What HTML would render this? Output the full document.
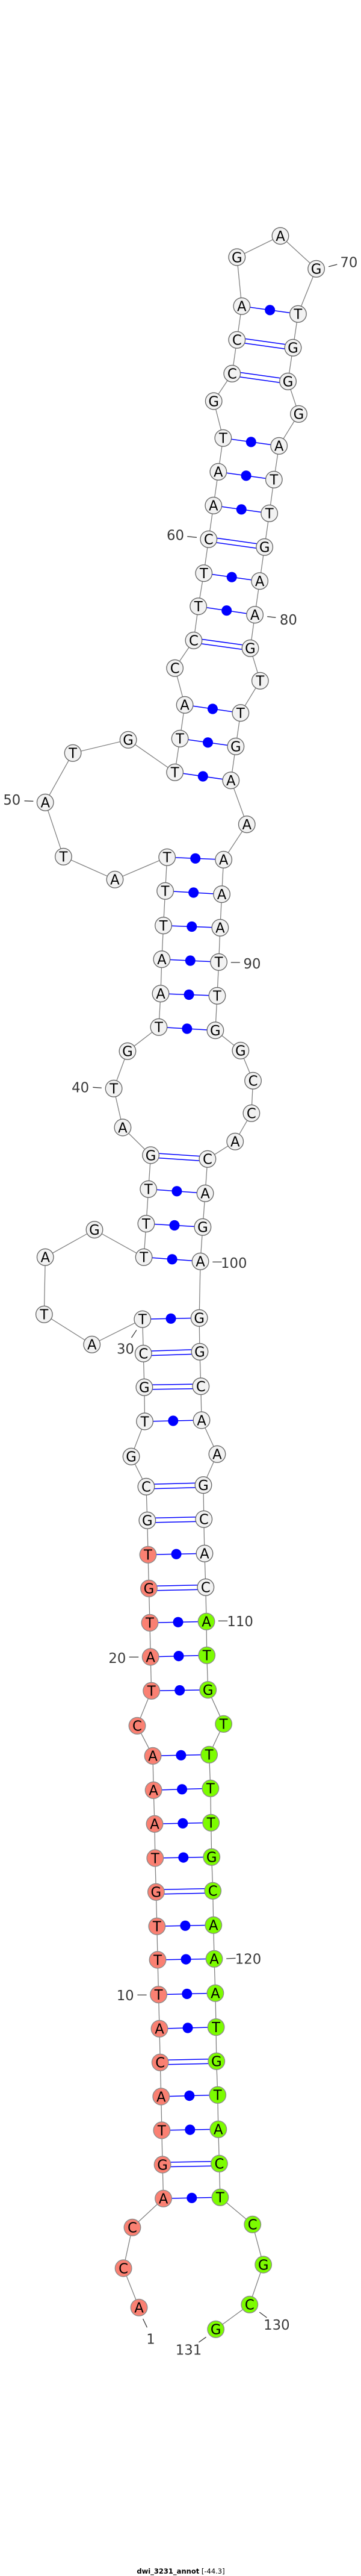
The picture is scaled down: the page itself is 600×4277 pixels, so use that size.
<!DOCTYPE html>
<html>
<head>
<meta charset="utf-8">
<style>
html,body{margin:0;padding:0;background:#fff;width:600px;height:4277px;overflow:hidden}
svg{display:block;font-family:"DejaVu Sans","Liberation Sans",sans-serif}
.n circle{stroke-width:1.35}
.n text{font-size:23px;fill:#000;text-anchor:middle}
.w circle{fill:#f2f2f2;stroke:#666}
.s circle{fill:#fa8072;stroke:#8a8a8a}
.g circle{fill:#7cfc00;stroke:#8a8a8a}
.l text{font-size:23px;fill:#3a3a3a;text-anchor:middle}
.l line{stroke:#3a3a3a;stroke-width:1.3}
</style>
</head>
<body>
<svg xmlns="http://www.w3.org/2000/svg" width="600" height="4277" viewBox="0 0 600 4277">
<g transform="scale(0.99,1)">
<polyline fill="none" stroke="#808080" stroke-width="1.3" points="233.4,3831.3 207.2,3766 222.2,3698.3 274.3,3650.3 272.8,3594 271.6,3537 270.5,3481 268.9,3424.3 267.7,3368.3 266.2,3311.7 264.7,3254 263.5,3198.3 262,3141.3 260.4,3085 259.6,3028.3 257.7,2972.3 256.6,2915.3 230.3,2865.3 254.2,2807.3 252.7,2751 251.5,2694.3 250,2637.3 248.5,2581.3 247.3,2524.3 245.4,2468.3 220.3,2418.3 243,2360 242.3,2303.3 240.7,2247.3 239.2,2190.3 154.3,2232.3 74.1,2182.3 76,2087.3 158.6,2041.7 241.5,2087.3 245.4,2031.7 249.2,1974.3 253.1,1918 206,1872 191,1807.3 214.1,1745.3 266.6,1705.3 269.7,1649.7 271.6,1592.7 274.3,1536.7 277.4,1479.3 280.5,1423.3 192.9,1460.3 106.5,1422.3 76,1332.3 122.3,1250.3 215.3,1228.3 293.6,1282.3 302.1,1226.3 310.2,1170.3 293.6,1109.3 325.2,1063.3 333,1006.7 342.2,951.7 350.3,895.3 358.4,839.3 366.5,783.3 374.6,727.3 358.8,666 389.7,620.3 397.8,564.3 405.9,508.3 397.8,427 470.7,391.7 530.9,446.3 500.4,521.3 491.9,577.3 483.4,633.3 501.5,687.3 468.4,740.3 459.9,796.3 452.2,852.3 444.1,908.3 436,964.7 427.9,1020.7 420.2,1076.3 436.7,1130.3 403.9,1183.7 395.8,1239.3 387.7,1295.7 414.4,1368.7 375.4,1427.3 372.3,1484.7 369.6,1540.3 367.3,1597.3 364.6,1653.3 361.5,1710.7 403.9,1744.3 424.8,1794.3 422.1,1848.3 394.7,1895.3 348.4,1924.3 344.5,1981.3 340.3,2037.3 336.4,2094.3 334.5,2188.3 335.3,2244.3 337.2,2301.7 338.4,2358 364.6,2414.3 341.4,2465.7 342.2,2522.3 343.4,2579.3 345.3,2635.3 346.5,2692.3 347.2,2748.3 349.2,2805.7 375.4,2862.3 351.1,2913.3 353.4,2969.3 354.2,3026.3 355.3,3083.3 357.3,3139.3 358.4,3196.3 359.6,3252.3 361.5,3309.3 362.7,3365.7 363.4,3422.3 365.4,3478.3 366.5,3535.3 368.1,3592.3 369.6,3648.3 424,3693.3 442.1,3760 419,3826.3 362.3,3867.3"/>

<!-- single bonds with dots -->
<g stroke="#0000ff" stroke-width="1.5" fill="none">
<line x1="274.3" y1="3650.3" x2="369.6" y2="3648.3"/>
<line x1="271.6" y1="3537" x2="366.5" y2="3535.3"/>
<line x1="270.5" y1="3481" x2="365.4" y2="3478.3"/>
<line x1="267.7" y1="3368.3" x2="362.7" y2="3365.7"/>
<line x1="266.2" y1="3311.7" x2="361.5" y2="3309.3"/>
<line x1="264.7" y1="3254" x2="359.6" y2="3252.3"/>
<line x1="263.5" y1="3198.3" x2="358.4" y2="3196.3"/>
<line x1="260.4" y1="3085" x2="355.3" y2="3083.3"/>
<line x1="259.6" y1="3028.3" x2="354.2" y2="3026.3"/>
<line x1="257.7" y1="2972.3" x2="353.4" y2="2969.3"/>
<line x1="256.6" y1="2915.3" x2="351.1" y2="2913.3"/>
<line x1="254.2" y1="2807.3" x2="349.2" y2="2805.7"/>
<line x1="252.7" y1="2751" x2="347.2" y2="2748.3"/>
<line x1="251.5" y1="2694.3" x2="346.5" y2="2692.3"/>
<line x1="248.5" y1="2581.3" x2="343.4" y2="2579.3"/>
<line x1="243" y1="2360" x2="338.4" y2="2358"/>
<line x1="239.2" y1="2190.3" x2="334.5" y2="2188.3"/>
<line x1="241.5" y1="2087.3" x2="336.4" y2="2094.3"/>
<line x1="245.4" y1="2031.7" x2="340.3" y2="2037.3"/>
<line x1="249.2" y1="1974.3" x2="344.5" y2="1981.3"/>
<line x1="266.6" y1="1705.3" x2="361.5" y2="1710.7"/>
<line x1="269.7" y1="1649.7" x2="364.6" y2="1653.3"/>
<line x1="271.6" y1="1592.7" x2="367.3" y2="1597.3"/>
<line x1="274.3" y1="1536.7" x2="369.6" y2="1540.3"/>
<line x1="277.4" y1="1479.3" x2="372.3" y2="1484.7"/>
<line x1="280.5" y1="1423.3" x2="375.4" y2="1427.3"/>
<line x1="293.6" y1="1282.3" x2="387.7" y2="1295.7"/>
<line x1="302.1" y1="1226.3" x2="395.8" y2="1239.3"/>
<line x1="310.2" y1="1170.3" x2="403.9" y2="1183.7"/>
<line x1="333" y1="1006.7" x2="427.9" y2="1020.7"/>
<line x1="342.2" y1="951.7" x2="436" y2="964.7"/>
<line x1="358.4" y1="839.3" x2="452.2" y2="852.3"/>
<line x1="366.5" y1="783.3" x2="459.9" y2="796.3"/>
<line x1="374.6" y1="727.3" x2="468.4" y2="740.3"/>
<line x1="405.9" y1="508.3" x2="500.4" y2="521.3"/>
</g>
<g fill="#0000ff">
<circle cx="322" cy="3649.3" r="8.6"/>
<circle cx="319" cy="3536.1" r="8.6"/>
<circle cx="318" cy="3479.6" r="8.6"/>
<circle cx="315.2" cy="3367" r="8.6"/>
<circle cx="313.9" cy="3310.5" r="8.6"/>
<circle cx="312.2" cy="3253.1" r="8.6"/>
<circle cx="311" cy="3197.3" r="8.6"/>
<circle cx="307.9" cy="3084.1" r="8.6"/>
<circle cx="306.9" cy="3027.3" r="8.6"/>
<circle cx="305.6" cy="2970.8" r="8.6"/>
<circle cx="303.9" cy="2914.3" r="8.6"/>
<circle cx="301.7" cy="2806.5" r="8.6"/>
<circle cx="300" cy="2749.6" r="8.6"/>
<circle cx="299" cy="2693.3" r="8.6"/>
<circle cx="296" cy="2580.3" r="8.6"/>
<circle cx="290.7" cy="2359" r="8.6"/>
<circle cx="286.9" cy="2189.3" r="8.6"/>
<circle cx="289" cy="2090.8" r="8.6"/>
<circle cx="292.9" cy="2034.5" r="8.6"/>
<circle cx="296.9" cy="1977.8" r="8.6"/>
<circle cx="314" cy="1708" r="8.6"/>
<circle cx="317.2" cy="1651.5" r="8.6"/>
<circle cx="319.5" cy="1595" r="8.6"/>
<circle cx="322" cy="1538.5" r="8.6"/>
<circle cx="324.9" cy="1482" r="8.6"/>
<circle cx="328" cy="1425.3" r="8.6"/>
<circle cx="340.7" cy="1289" r="8.6"/>
<circle cx="349" cy="1232.8" r="8.6"/>
<circle cx="357" cy="1177" r="8.6"/>
<circle cx="380.5" cy="1013.7" r="8.6"/>
<circle cx="389.1" cy="958.2" r="8.6"/>
<circle cx="405.3" cy="845.8" r="8.6"/>
<circle cx="413.2" cy="789.8" r="8.6"/>
<circle cx="421.5" cy="733.8" r="8.6"/>
<circle cx="453.2" cy="514.8" r="8.6"/>
</g>

<!-- double bonds: blue band with white core -->
<g fill="none" stroke="#0000ff" stroke-width="9">
<line x1="272.8" y1="3594" x2="368.1" y2="3592.3"/>
<line x1="268.9" y1="3424.3" x2="363.4" y2="3422.3"/>
<line x1="262" y1="3141.3" x2="357.3" y2="3139.3"/>
<line x1="250" y1="2637.3" x2="345.3" y2="2635.3"/>
<line x1="247.3" y1="2524.3" x2="342.2" y2="2522.3"/>
<line x1="245.4" y1="2468.3" x2="341.4" y2="2465.7"/>
<line x1="242.3" y1="2303.3" x2="337.2" y2="2301.7"/>
<line x1="240.7" y1="2247.3" x2="335.3" y2="2244.3"/>
<line x1="253.1" y1="1918" x2="348.4" y2="1924.3"/>
<line x1="325.2" y1="1063.3" x2="420.2" y2="1076.3"/>
<line x1="350.3" y1="895.3" x2="444.1" y2="908.3"/>
<line x1="389.7" y1="620.3" x2="483.4" y2="633.3"/>
<line x1="397.8" y1="564.3" x2="491.9" y2="577.3"/>
</g>
<g fill="none" stroke="#ffffff" stroke-width="6">
<line x1="272.8" y1="3594" x2="368.1" y2="3592.3"/>
<line x1="268.9" y1="3424.3" x2="363.4" y2="3422.3"/>
<line x1="262" y1="3141.3" x2="357.3" y2="3139.3"/>
<line x1="250" y1="2637.3" x2="345.3" y2="2635.3"/>
<line x1="247.3" y1="2524.3" x2="342.2" y2="2522.3"/>
<line x1="245.4" y1="2468.3" x2="341.4" y2="2465.7"/>
<line x1="242.3" y1="2303.3" x2="337.2" y2="2301.7"/>
<line x1="240.7" y1="2247.3" x2="335.3" y2="2244.3"/>
<line x1="253.1" y1="1918" x2="348.4" y2="1924.3"/>
<line x1="325.2" y1="1063.3" x2="420.2" y2="1076.3"/>
<line x1="350.3" y1="895.3" x2="444.1" y2="908.3"/>
<line x1="389.7" y1="620.3" x2="483.4" y2="633.3"/>
<line x1="397.8" y1="564.3" x2="491.9" y2="577.3"/>
</g>

<!-- salmon nodes -->
<g class="n s">
<circle cx="233.4" cy="3831.3" r="13.9"/><text x="233.4" y="3831.3" dy="8.3">A</text>
<circle cx="207.2" cy="3766" r="13.9"/><text x="207.2" y="3766" dy="8.3">C</text>
<circle cx="222.2" cy="3698.3" r="13.9"/><text x="222.2" y="3698.3" dy="8.3">C</text>
<circle cx="274.3" cy="3650.3" r="13.9"/><text x="274.3" y="3650.3" dy="8.3">A</text>
<circle cx="272.8" cy="3594" r="13.9"/><text x="272.8" y="3594" dy="8.3">G</text>
<circle cx="271.6" cy="3537" r="13.9"/><text x="271.6" y="3537" dy="8.3">T</text>
<circle cx="270.5" cy="3481" r="13.9"/><text x="270.5" y="3481" dy="8.3">A</text>
<circle cx="268.9" cy="3424.3" r="13.9"/><text x="268.9" y="3424.3" dy="8.3">C</text>
<circle cx="267.7" cy="3368.3" r="13.9"/><text x="267.7" y="3368.3" dy="8.3">A</text>
<circle cx="266.2" cy="3311.7" r="13.9"/><text x="266.2" y="3311.7" dy="8.3">T</text>
<circle cx="264.7" cy="3254" r="13.9"/><text x="264.7" y="3254" dy="8.3">T</text>
<circle cx="263.5" cy="3198.3" r="13.9"/><text x="263.5" y="3198.3" dy="8.3">T</text>
<circle cx="262" cy="3141.3" r="13.9"/><text x="262" y="3141.3" dy="8.3">G</text>
<circle cx="260.4" cy="3085" r="13.9"/><text x="260.4" y="3085" dy="8.3">T</text>
<circle cx="259.6" cy="3028.3" r="13.9"/><text x="259.6" y="3028.3" dy="8.3">A</text>
<circle cx="257.7" cy="2972.3" r="13.9"/><text x="257.7" y="2972.3" dy="8.3">A</text>
<circle cx="256.6" cy="2915.3" r="13.9"/><text x="256.6" y="2915.3" dy="8.3">A</text>
<circle cx="230.3" cy="2865.3" r="13.9"/><text x="230.3" y="2865.3" dy="8.3">C</text>
<circle cx="254.2" cy="2807.3" r="13.9"/><text x="254.2" y="2807.3" dy="8.3">T</text>
<circle cx="252.7" cy="2751" r="13.9"/><text x="252.7" y="2751" dy="8.3">A</text>
<circle cx="251.5" cy="2694.3" r="13.9"/><text x="251.5" y="2694.3" dy="8.3">T</text>
<circle cx="250" cy="2637.3" r="13.9"/><text x="250" y="2637.3" dy="8.3">G</text>
<circle cx="248.5" cy="2581.3" r="13.9"/><text x="248.5" y="2581.3" dy="8.3">T</text>
</g>

<!-- neutral nodes -->
<g class="n w">
<circle cx="247.3" cy="2524.3" r="13.9"/><text x="247.3" y="2524.3" dy="8.3">G</text>
<circle cx="245.4" cy="2468.3" r="13.9"/><text x="245.4" y="2468.3" dy="8.3">C</text>
<circle cx="220.3" cy="2418.3" r="13.9"/><text x="220.3" y="2418.3" dy="8.3">G</text>
<circle cx="243" cy="2360" r="13.9"/><text x="243" y="2360" dy="8.3">T</text>
<circle cx="242.3" cy="2303.3" r="13.9"/><text x="242.3" y="2303.3" dy="8.3">G</text>
<circle cx="240.7" cy="2247.3" r="13.9"/><text x="240.7" y="2247.3" dy="8.3">C</text>
<circle cx="239.2" cy="2190.3" r="13.9"/><text x="239.2" y="2190.3" dy="8.3">T</text>
<circle cx="154.3" cy="2232.3" r="13.9"/><text x="154.3" y="2232.3" dy="8.3">A</text>
<circle cx="74.1" cy="2182.3" r="13.9"/><text x="74.1" y="2182.3" dy="8.3">T</text>
<circle cx="76" cy="2087.3" r="13.9"/><text x="76" y="2087.3" dy="8.3">A</text>
<circle cx="158.6" cy="2041.7" r="13.9"/><text x="158.6" y="2041.7" dy="8.3">G</text>
<circle cx="241.5" cy="2087.3" r="13.9"/><text x="241.5" y="2087.3" dy="8.3">T</text>
<circle cx="245.4" cy="2031.7" r="13.9"/><text x="245.4" y="2031.7" dy="8.3">T</text>
<circle cx="249.2" cy="1974.3" r="13.9"/><text x="249.2" y="1974.3" dy="8.3">T</text>
<circle cx="253.1" cy="1918" r="13.9"/><text x="253.1" y="1918" dy="8.3">G</text>
<circle cx="206" cy="1872" r="13.9"/><text x="206" y="1872" dy="8.3">A</text>
<circle cx="191" cy="1807.3" r="13.9"/><text x="191" y="1807.3" dy="8.3">T</text>
<circle cx="214.1" cy="1745.3" r="13.9"/><text x="214.1" y="1745.3" dy="8.3">G</text>
<circle cx="266.6" cy="1705.3" r="13.9"/><text x="266.6" y="1705.3" dy="8.3">T</text>
<circle cx="269.7" cy="1649.7" r="13.9"/><text x="269.7" y="1649.7" dy="8.3">A</text>
<circle cx="271.6" cy="1592.7" r="13.9"/><text x="271.6" y="1592.7" dy="8.3">A</text>
<circle cx="274.3" cy="1536.7" r="13.9"/><text x="274.3" y="1536.7" dy="8.3">T</text>
<circle cx="277.4" cy="1479.3" r="13.9"/><text x="277.4" y="1479.3" dy="8.3">T</text>
<circle cx="280.5" cy="1423.3" r="13.9"/><text x="280.5" y="1423.3" dy="8.3">T</text>
<circle cx="192.9" cy="1460.3" r="13.9"/><text x="192.9" y="1460.3" dy="8.3">A</text>
<circle cx="106.5" cy="1422.3" r="13.9"/><text x="106.5" y="1422.3" dy="8.3">T</text>
<circle cx="76" cy="1332.3" r="13.9"/><text x="76" y="1332.3" dy="8.3">A</text>
<circle cx="122.3" cy="1250.3" r="13.9"/><text x="122.3" y="1250.3" dy="8.3">T</text>
<circle cx="215.3" cy="1228.3" r="13.9"/><text x="215.3" y="1228.3" dy="8.3">G</text>
<circle cx="293.6" cy="1282.3" r="13.9"/><text x="293.6" y="1282.3" dy="8.3">T</text>
<circle cx="302.1" cy="1226.3" r="13.9"/><text x="302.1" y="1226.3" dy="8.3">T</text>
<circle cx="310.2" cy="1170.3" r="13.9"/><text x="310.2" y="1170.3" dy="8.3">A</text>
<circle cx="293.6" cy="1109.3" r="13.9"/><text x="293.6" y="1109.3" dy="8.3">C</text>
<circle cx="325.2" cy="1063.3" r="13.9"/><text x="325.2" y="1063.3" dy="8.3">C</text>
<circle cx="333" cy="1006.7" r="13.9"/><text x="333" y="1006.7" dy="8.3">T</text>
<circle cx="342.2" cy="951.7" r="13.9"/><text x="342.2" y="951.7" dy="8.3">T</text>
<circle cx="350.3" cy="895.3" r="13.9"/><text x="350.3" y="895.3" dy="8.3">C</text>
<circle cx="358.4" cy="839.3" r="13.9"/><text x="358.4" y="839.3" dy="8.3">A</text>
<circle cx="366.5" cy="783.3" r="13.9"/><text x="366.5" y="783.3" dy="8.3">A</text>
<circle cx="374.6" cy="727.3" r="13.9"/><text x="374.6" y="727.3" dy="8.3">T</text>
<circle cx="358.8" cy="666" r="13.9"/><text x="358.8" y="666" dy="8.3">G</text>
<circle cx="389.7" cy="620.3" r="13.9"/><text x="389.7" y="620.3" dy="8.3">C</text>
<circle cx="397.8" cy="564.3" r="13.9"/><text x="397.8" y="564.3" dy="8.3">C</text>
<circle cx="405.9" cy="508.3" r="13.9"/><text x="405.9" y="508.3" dy="8.3">A</text>
<circle cx="397.8" cy="427" r="13.9"/><text x="397.8" y="427" dy="8.3">G</text>
<circle cx="470.7" cy="391.7" r="13.9"/><text x="470.7" y="391.7" dy="8.3">A</text>
<circle cx="530.9" cy="446.3" r="13.9"/><text x="530.9" y="446.3" dy="8.3">G</text>
<circle cx="500.4" cy="521.3" r="13.9"/><text x="500.4" y="521.3" dy="8.3">T</text>
<circle cx="491.9" cy="577.3" r="13.9"/><text x="491.9" y="577.3" dy="8.3">G</text>
<circle cx="483.4" cy="633.3" r="13.9"/><text x="483.4" y="633.3" dy="8.3">G</text>
<circle cx="501.5" cy="687.3" r="13.9"/><text x="501.5" y="687.3" dy="8.3">G</text>
<circle cx="468.4" cy="740.3" r="13.9"/><text x="468.4" y="740.3" dy="8.3">A</text>
<circle cx="459.9" cy="796.3" r="13.9"/><text x="459.9" y="796.3" dy="8.3">T</text>
<circle cx="452.2" cy="852.3" r="13.9"/><text x="452.2" y="852.3" dy="8.3">T</text>
<circle cx="444.1" cy="908.3" r="13.9"/><text x="444.1" y="908.3" dy="8.3">G</text>
<circle cx="436" cy="964.7" r="13.9"/><text x="436" y="964.7" dy="8.3">A</text>
<circle cx="427.9" cy="1020.7" r="13.9"/><text x="427.9" y="1020.7" dy="8.3">A</text>
<circle cx="420.2" cy="1076.3" r="13.9"/><text x="420.2" y="1076.3" dy="8.3">G</text>
<circle cx="436.7" cy="1130.3" r="13.9"/><text x="436.7" y="1130.3" dy="8.3">T</text>
<circle cx="403.9" cy="1183.7" r="13.9"/><text x="403.9" y="1183.7" dy="8.3">T</text>
<circle cx="395.8" cy="1239.3" r="13.9"/><text x="395.8" y="1239.3" dy="8.3">G</text>
<circle cx="387.7" cy="1295.7" r="13.9"/><text x="387.7" y="1295.7" dy="8.3">A</text>
<circle cx="414.4" cy="1368.7" r="13.9"/><text x="414.4" y="1368.7" dy="8.3">A</text>
<circle cx="375.4" cy="1427.3" r="13.9"/><text x="375.4" y="1427.3" dy="8.3">A</text>
<circle cx="372.3" cy="1484.7" r="13.9"/><text x="372.3" y="1484.7" dy="8.3">A</text>
<circle cx="369.6" cy="1540.3" r="13.9"/><text x="369.6" y="1540.3" dy="8.3">A</text>
<circle cx="367.3" cy="1597.3" r="13.9"/><text x="367.3" y="1597.3" dy="8.3">T</text>
<circle cx="364.6" cy="1653.3" r="13.9"/><text x="364.6" y="1653.3" dy="8.3">T</text>
<circle cx="361.5" cy="1710.7" r="13.9"/><text x="361.5" y="1710.7" dy="8.3">G</text>
<circle cx="403.9" cy="1744.3" r="13.9"/><text x="403.9" y="1744.3" dy="8.3">G</text>
<circle cx="424.8" cy="1794.3" r="13.9"/><text x="424.8" y="1794.3" dy="8.3">C</text>
<circle cx="422.1" cy="1848.3" r="13.9"/><text x="422.1" y="1848.3" dy="8.3">C</text>
<circle cx="394.7" cy="1895.3" r="13.9"/><text x="394.7" y="1895.3" dy="8.3">A</text>
<circle cx="348.4" cy="1924.3" r="13.9"/><text x="348.4" y="1924.3" dy="8.3">C</text>
<circle cx="344.5" cy="1981.3" r="13.9"/><text x="344.5" y="1981.3" dy="8.3">A</text>
<circle cx="340.3" cy="2037.3" r="13.9"/><text x="340.3" y="2037.3" dy="8.3">G</text>
<circle cx="336.4" cy="2094.3" r="13.9"/><text x="336.4" y="2094.3" dy="8.3">A</text>
<circle cx="334.5" cy="2188.3" r="13.9"/><text x="334.5" y="2188.3" dy="8.3">G</text>
<circle cx="335.3" cy="2244.3" r="13.9"/><text x="335.3" y="2244.3" dy="8.3">G</text>
<circle cx="337.2" cy="2301.7" r="13.9"/><text x="337.2" y="2301.7" dy="8.3">C</text>
<circle cx="338.4" cy="2358" r="13.9"/><text x="338.4" y="2358" dy="8.3">A</text>
<circle cx="364.6" cy="2414.3" r="13.9"/><text x="364.6" y="2414.3" dy="8.3">A</text>
<circle cx="341.4" cy="2465.7" r="13.9"/><text x="341.4" y="2465.7" dy="8.3">G</text>
<circle cx="342.2" cy="2522.3" r="13.9"/><text x="342.2" y="2522.3" dy="8.3">C</text>
<circle cx="343.4" cy="2579.3" r="13.9"/><text x="343.4" y="2579.3" dy="8.3">A</text>
<circle cx="345.3" cy="2635.3" r="13.9"/><text x="345.3" y="2635.3" dy="8.3">C</text>
</g>

<!-- green nodes -->
<g class="n g">
<circle cx="346.5" cy="2692.3" r="13.9"/><text x="346.5" y="2692.3" dy="8.3">A</text>
<circle cx="347.2" cy="2748.3" r="13.9"/><text x="347.2" y="2748.3" dy="8.3">T</text>
<circle cx="349.2" cy="2805.7" r="13.9"/><text x="349.2" y="2805.7" dy="8.3">G</text>
<circle cx="375.4" cy="2862.3" r="13.9"/><text x="375.4" y="2862.3" dy="8.3">T</text>
<circle cx="351.1" cy="2913.3" r="13.9"/><text x="351.1" y="2913.3" dy="8.3">T</text>
<circle cx="353.4" cy="2969.3" r="13.9"/><text x="353.4" y="2969.3" dy="8.3">T</text>
<circle cx="354.2" cy="3026.3" r="13.9"/><text x="354.2" y="3026.3" dy="8.3">T</text>
<circle cx="355.3" cy="3083.3" r="13.9"/><text x="355.3" y="3083.3" dy="8.3">G</text>
<circle cx="357.3" cy="3139.3" r="13.9"/><text x="357.3" y="3139.3" dy="8.3">C</text>
<circle cx="358.4" cy="3196.3" r="13.9"/><text x="358.4" y="3196.3" dy="8.3">A</text>
<circle cx="359.6" cy="3252.3" r="13.9"/><text x="359.6" y="3252.3" dy="8.3">A</text>
<circle cx="361.5" cy="3309.3" r="13.9"/><text x="361.5" y="3309.3" dy="8.3">A</text>
<circle cx="362.7" cy="3365.7" r="13.9"/><text x="362.7" y="3365.7" dy="8.3">T</text>
<circle cx="363.4" cy="3422.3" r="13.9"/><text x="363.4" y="3422.3" dy="8.3">G</text>
<circle cx="365.4" cy="3478.3" r="13.9"/><text x="365.4" y="3478.3" dy="8.3">T</text>
<circle cx="366.5" cy="3535.3" r="13.9"/><text x="366.5" y="3535.3" dy="8.3">A</text>
<circle cx="368.1" cy="3592.3" r="13.9"/><text x="368.1" y="3592.3" dy="8.3">C</text>
<circle cx="369.6" cy="3648.3" r="13.9"/><text x="369.6" y="3648.3" dy="8.3">T</text>
<circle cx="424" cy="3693.3" r="13.9"/><text x="424" y="3693.3" dy="8.3">C</text>
<circle cx="442.1" cy="3760" r="13.9"/><text x="442.1" y="3760" dy="8.3">G</text>
<circle cx="419" cy="3826.3" r="13.9"/><text x="419" y="3826.3" dy="8.3">C</text>
<circle cx="362.3" cy="3867.3" r="13.9"/><text x="362.3" y="3867.3" dy="8.3">G</text>
</g>

<!-- numbering -->
<g class="l">
<line x1="551.7" y1="442.7" x2="566" y2="439"/><text x="585.7" y="435" dy="8.3">70</text>
<line x1="314.4" y1="890.7" x2="330.3" y2="892.3"/><text x="294.4" y="888" dy="8.3">60</text>
<line x1="448.7" y1="1023.7" x2="463" y2="1025.3"/><text x="484.2" y="1028.7" dy="8.3">80</text>
<line x1="40.9" y1="1329.7" x2="55.9" y2="1330.3"/><text x="20" y="1327.7" dy="8.3">50</text>
<line x1="387.7" y1="1598" x2="402.8" y2="1598"/><text x="423.2" y="1599.7" dy="8.3">90</text>
<line x1="155.9" y1="1805.3" x2="170.5" y2="1806.3"/><text x="135" y="1805" dy="8.3">40</text>
<line x1="356.9" y1="2095.3" x2="372.3" y2="2095.3"/><text x="392.7" y="2096.7" dy="8.3">100</text>
<line x1="229.2" y1="2208.3" x2="220.7" y2="2221"/><text x="210.6" y="2239" dy="8.3">30</text>
<line x1="366.5" y1="2691.3" x2="382" y2="2691.3"/><text x="403.2" y="2691.7" dy="8.3">110</text>
<line x1="216.8" y1="2751.3" x2="232.6" y2="2751.3"/><text x="196.8" y="2752.7" dy="8.3">20</text>
<line x1="380" y1="3252" x2="395.5" y2="3251.3"/><text x="416.7" y="3252" dy="8.3">120</text>
<line x1="230.7" y1="3312.3" x2="246.1" y2="3312.3"/><text x="210.3" y="3312.7" dy="8.3">10</text>
<line x1="240" y1="3850" x2="246.9" y2="3864.3"/><text x="253" y="3883" dy="8.3">1</text>
<line x1="435.6" y1="3839" x2="447.9" y2="3848"/><text x="464.5" y="3859.7" dy="8.3">130</text>
<line x1="346" y1="3880.3" x2="333.7" y2="3889"/><text x="316.7" y="3901" dy="8.3">131</text>
</g>
</g>

<text x="300.5" y="4273" text-anchor="middle" font-size="11.5" fill="#000"><tspan font-weight="bold">dwi_3231_annot</tspan> [-44.3]</text>
</svg>
</body>
</html>
